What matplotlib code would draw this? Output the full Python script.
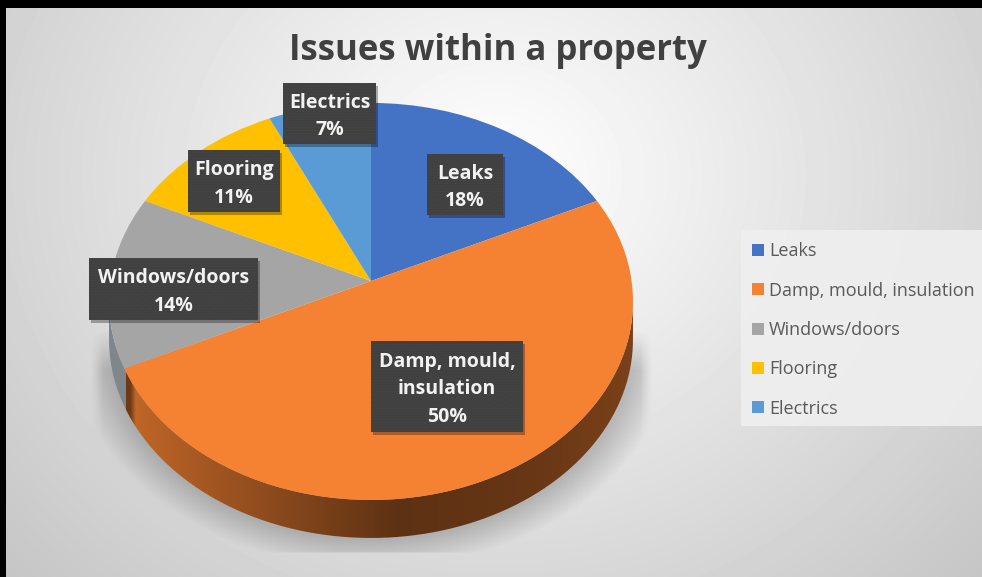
import numpy as np
import matplotlib
matplotlib.use("Agg")
import matplotlib.pyplot as plt
from matplotlib.patches import Rectangle, PathPatch
from matplotlib.path import Path
from matplotlib.transforms import Transform

plt.rcParams['font.family'] = ['Open Sans', 'DejaVu Sans']
plt.rcParams['hatch.linewidth'] = 0.5

# data
categories = ['Leaks', 'Damp, mould, insulation', 'Windows/doors', 'Flooring', 'Electrics']
shares = [18, 50, 14, 11, 7]
colours = ['#4472c4', '#f58233', '#a5a5a5', '#ffc000', '#5b9bd5']
box_labels = ['Leaks', 'Damp, mould,\ninsulation', 'Windows/doors', 'Flooring', 'Electrics']
# label boxes in pixels: left, top, right, bottom
boxes = [(427, 154, 503, 215), (371, 341, 523, 432), (89, 258, 258, 320),
         (188, 150, 280, 212), (283, 83, 376, 144)]

W, H = 982, 577
CX, CY = 371, 281     # apex of the pie
K, AY, BX = 0.103, 196.4, 260.6
DEPTH = 38


class Tilt(Transform):
    # pie seen in perspective, unit circle -> screen pixels
    input_dims = output_dims = 2

    def transform_non_affine(self, xy):
        xy = np.asarray(xy, dtype=float)
        s = 1 + K * xy[:, 1]
        return np.column_stack([CX + BX * xy[:, 0] / s, CY - AY * xy[:, 1] / s])


fig = plt.figure(figsize=(W / 100, H / 100), dpi=100, facecolor='black')
ax = fig.add_axes([0, 0, 1, 1])

# background and soft shadow below the pie
yy, xx = np.mgrid[0:H, 0:W]
dist = np.hypot((xx - 495) / 450, (yy - 175) / 400)
bg = np.clip(1.0 - 0.153 * dist, 0, 1)
t = np.linspace(0, 2 * np.pi, 400)
rim = Tilt().transform_non_affine(np.column_stack([np.cos(t), np.sin(t)]))
ex, ey = (109 + 633) / 2, (103 + 500) / 2 + DEPTH
d = np.hypot((xx - ex) / 262, (yy - ey) / 197.5)
edge = (1 - d) * 230
shadow = np.clip((edge + 36) / 34, 0, 1) * np.clip((yy - 330) / 40, 0, 1)
shadow *= np.clip((xx - 90) / 12, 0, 1) * np.clip((652 - xx) / 12, 0, 1) * np.clip((553 - yy) / 2, 0, 1)
bg = bg * (1 - 0.2 * shadow)
bg[:8, :] = 0
bg[:, :6] = 0
ax.imshow(bg, cmap='gray', vmin=0, vmax=1, extent=(0, W, H, 0), aspect='auto', zorder=0)

# side wall of the pie, grey on the far left, brown gradient for the rest
low = rim[(rim[:, 1] > 300)]
low = low[np.argsort(low[:, 0])]
verts = np.vstack([low, (low + [0, DEPTH])[::-1]])
wall = PathPatch(Path(np.vstack([verts, verts[:1]])), fc='none', ec='none', transform=ax.transData)
ax.add_patch(wall)
pos = np.clip((xx[0] - 109) / 524, 0, 1)
shade = np.interp(pos, [0, 0.04, 0.05, 0.25, 0.55, 0.8, 1], [0.45, 0.45, 0.78, 0.62, 0.38, 0.42, 0.5])
base = np.array([0.96, 0.51, 0.2])
grad = shade[None, :, None] * base[None, None, :]
grey = xx[0] < 126
grad = np.repeat(grad, H, axis=0)
grad[:, grey] = [0.5, 0.53, 0.55]
im = ax.imshow(grad, extent=(0, W, H, 0), aspect='auto', zorder=1)
im.set_clip_path(wall)

wedges, _ = ax.pie(shares, colors=colours, startangle=90, counterclock=False, radius=1)
for w in wedges:
    w.set_transform(Tilt() + ax.transData)
    w.set_zorder(2)
ax.set_aspect('auto')
ax.set_xlim(0, W)
ax.set_ylim(H, 0)
ax.axis('off')

# data labels
for name, val, (x0, y0, x1, y1) in zip(box_labels, shares, boxes):
    ax.add_patch(Rectangle((x0 + 2, y0 + 3), x1 - x0, y1 - y0, fc='black', alpha=0.3, ec='none', zorder=3))
    ax.add_patch(Rectangle((x0, y0), x1 - x0, y1 - y0, fc='#404040', ec='#484848', lw=0, hatch='......', zorder=4))
    ax.text((x0 + x1) / 2, (y0 + y1) / 2 + 3, f'{name}\n{val}%', color='#f2f2f2', ha='center', va='center',
            fontsize=14, fontweight='bold', linespacing=1.5, zorder=5)

ax.text(498, 60, 'Issues within a property', color='#404040', ha='center', va='baseline',
        fontsize=25, fontweight='bold')

ax.add_patch(Rectangle((741, 230), 241, 196, fc='#efefef', ec='none', alpha=0.9, zorder=3))
leg = ax.legend(wedges, categories, loc='upper left', bbox_to_anchor=(747 / W, 1 - 237 / H),
                frameon=False, fontsize=13, labelcolor='#595959', handlelength=0.65, handleheight=0.65,
                handletextpad=0.28, labelspacing=1.18, borderpad=0.3, borderaxespad=0)
leg.set_zorder(6)

fig.savefig('out.png', dpi=100, facecolor='black')
